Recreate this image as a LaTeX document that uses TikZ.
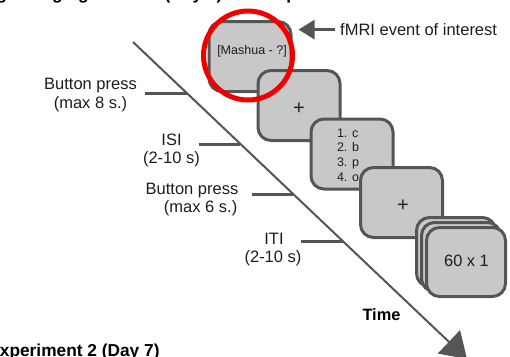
\documentclass[tikz,border=0pt]{standalone}
\usepackage{fontspec}
\setmainfont{Liberation Sans}
\usetikzlibrary{arrows.meta,calc}

\definecolor{edgegray}{RGB}{85,85,85}
\definecolor{panelgray}{RGB}{200,200,200}
\definecolor{inkgray}{RGB}{30,30,30}
\definecolor{ringred}{RGB}{240,0,0}

\begin{document}
\begin{tikzpicture}[x=1pt,y=-1pt,
  screen/.style={draw=edgegray, fill=panelgray, line width=3pt,
    rounded corners=13pt, minimum width=82pt, minimum height=70pt,
    inner sep=0pt},
  stackscreen/.style={screen, minimum width=79pt, minimum height=69pt},
  lbl/.style={font=\fontsize{16.5}{19}\selectfont, text=inkgray,
    inner sep=0pt, anchor=base},
  boxtxt/.style={font=\fontsize{12.5}{14.6}\selectfont, text=inkgray,
    inner sep=0pt},
  plussign/.style={font=\fontsize{20}{22}\selectfont, text=inkgray,
    inner sep=0pt},
  tickmark/.style={draw=edgegray, line width=3pt},
  timeline/.style={draw=edgegray, line width=2pt,
    -{Triangle[length=25pt,width=32pt]}},
  pointer/.style={draw=edgegray, line width=2.5pt,
    -{Triangle[length=16pt,width=19pt]}},
  heading/.style={font=\bfseries\fontsize{17.3}{20}\selectfont,
    text=black, inner sep=0pt, anchor=base west}
]
\useasboundingbox (0,0) rectangle (510,356);

% headings of the neighbouring panels
\node[heading] (prevhead) at (-72,-1) {Encoding - Imaging Session (Day 1) - Word pairs};
\node[heading] (exphead) at (-11.8,356.3) {Experiment 2 (Day 7)};

% time axis
\coordinate (ts) at (133,42);
\coordinate (te) at (467,359);
\draw[timeline] (ts) -- (te);
\node[font=\bfseries\fontsize{16.4}{19}\selectfont, inner sep=0pt, anchor=base]
  (timelbl) at (381.5,320.5) {Time};

% event marks on the time axis
\coordinate (k1) at ($(ts)!0.1609!(te)$);
\coordinate (k2) at ($(ts)!0.3218!(te)$);
\coordinate (k3) at ($(ts)!0.4795!(te)$);
\coordinate (k4) at ($(ts)!0.6278!(te)$);
\draw[tickmark] (k1) -- ++(-41.5,0);
\draw[tickmark] (k2) -- ++(-41.5,0);
\draw[tickmark] (k3) -- ++(-41.5,0);
\draw[tickmark] (k4) -- ++(-41.5,0);

\node[lbl] (bp1) at (90.5,89.4) {Button press};
\node[lbl] (bp1d) at (90.5,108.4) {(max 8 s.)};
\node[lbl] (isi) at (171.5,145) {ISI};
\node[lbl] (isid) at (171.5,163.5) {(2-10 s)};
\node[lbl, anchor=base east] (bp2) at (238.5,194) {Button press};
\node[lbl, anchor=base east] (bp2d) at (237.5,212) {(max 6 s.)};
\node[lbl] (iti) at (274,244.5) {ITI};
\node[lbl] (itid) at (273,262.5) {(2-10 s)};

% screens of one trial
\node[screen] (b1) at (250,56.5) {};
\node[boxtxt] (b1t) at ($(b1)+(2,-5.5)$) {[Mashua - ?]};
\node[screen] (b2) at (299,105.5) {};
\node[plussign] (b2t) at ($(b2)+(0,3)$) {+};
\node[screen] (b3) at (352,154) {};
\node[boxtxt, align=left] (b3t) at ($(b3)+(-4,1)$) {1. c\\2. b\\3. p\\4. o};
\node[screen] (b4) at (401.5,202.5) {};
\node[plussign] (b4t) at ($(b4)+(1.5,3)$) {+};

% repeated trials
\node[stackscreen] (b5c) at (456,252) {};
\node[stackscreen] (b5b) at (461,257) {};
\node[stackscreen] (b5a) at (466,262) {};
\node[font=\fontsize{16.4}{19}\selectfont, text=inkgray, inner sep=0pt]
  (b5t) at ($(b5a)+(0.5,-1)$) {60 x 1};

% highlighted event
\draw[ringred, line width=5pt] (248,55.5) circle[radius=44.5];
\node[lbl, anchor=base west] (fmri) at (340,35.5) {fMRI event of interest};
\draw[pointer] ([xshift=-5pt]fmri.west) -- ($(b1.east |- fmri.west)+(6,0)$);
\end{tikzpicture}
\end{document}
